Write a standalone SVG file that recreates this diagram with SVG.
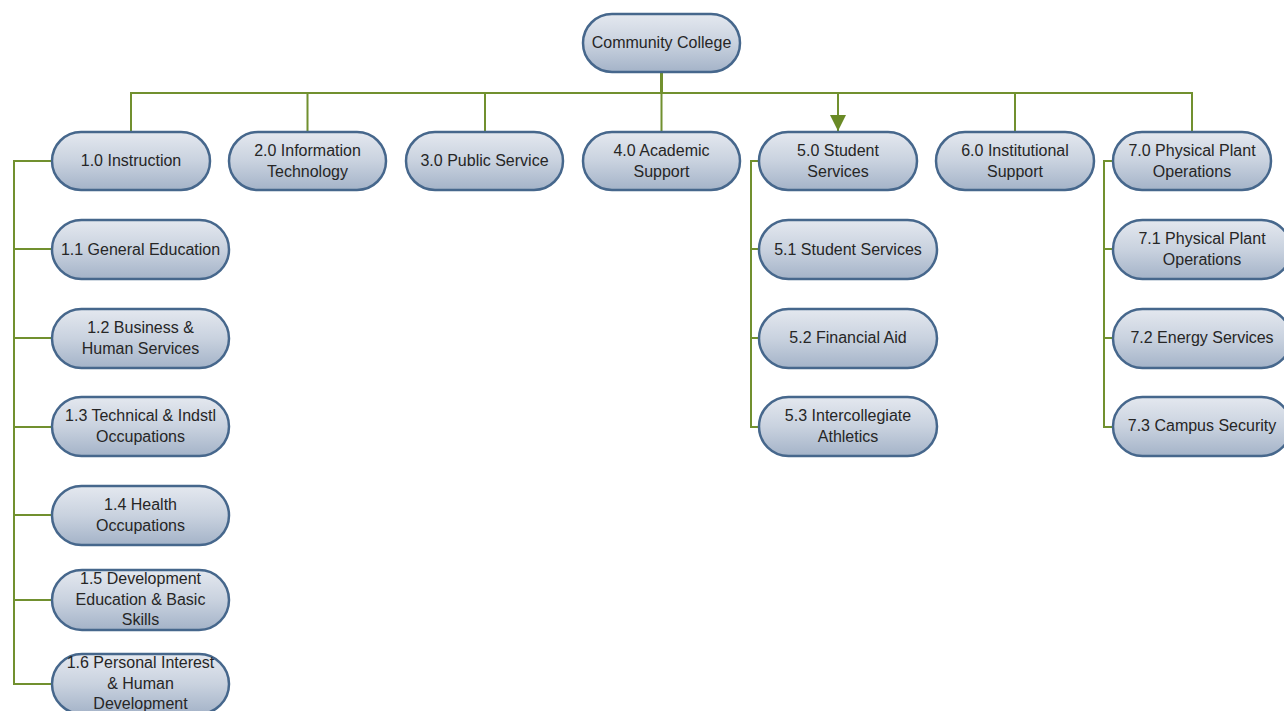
<svg xmlns="http://www.w3.org/2000/svg" width="1284" height="711" viewBox="0 0 1284 711">
<style>
.n rect{fill:url(#g);stroke:#46678c;stroke-width:2.5}
.n text{font-family:"Liberation Sans",Arial,sans-serif;font-size:16px;fill:#262626;text-anchor:middle}
.c{fill:none;stroke:#71902f;stroke-width:2}
</style>
<defs>
<linearGradient id="g" x1="0" y1="0" x2="0" y2="1">
<stop offset="0" stop-color="#e4e8ef"/>
<stop offset="0.5" stop-color="#c9d2df"/>
<stop offset="1" stop-color="#a4b3c8"/>
</linearGradient>
<marker id="arr" viewBox="0 0 10 10" refX="10" refY="5" markerWidth="8" markerHeight="8" markerUnits="strokeWidth" orient="auto"><path d="M0,0 L10,5 L0,10 z" fill="#6a8a26"/></marker>
</defs>
<rect width="1284" height="711" fill="#fff"/>
<g id="connectors">
<path class="c" d="M661.5 72 V93" style="stroke-width:3"/>
<path class="c" d="M131 131 V93 H1192 V131"/>
<path class="c" d="M307.5 93 V131 M485 93 V131 M661.5 93 V131 M1015 93 V131"/>
<path class="c" d="M838 93 V131" marker-end="url(#arr)"/>
<path class="c" d="M52 161 H14 V684 H52 M14 249 H52 M14 338 H52 M14 427 H52 M14 515 H52 M14 600 H52"/>
<path class="c" d="M759 161 H751 V427 H759 M751 249 H759 M751 338 H759"/>
<path class="c" d="M1113 161 H1104 V427 H1113 M1104 249 H1113 M1104 338 H1113"/>
</g>
<g id="root" class="n"><rect x="583" y="14" width="157" height="58" rx="29"/><text x="661.5" y="48">Community College</text></g>
<g id="n1_0" class="n"><rect x="52" y="132" width="158" height="58" rx="29"/><text x="131" y="166">1.0 Instruction</text></g>
<g id="n2_0" class="n"><rect x="229" y="132" width="157" height="58" rx="29"/><text x="307.5" y="156">2.0 Information</text><text x="307.5" y="177">Technology</text></g>
<g id="n3_0" class="n"><rect x="406" y="132" width="157" height="58" rx="29"/><text x="484.5" y="166">3.0 Public Service</text></g>
<g id="n4_0" class="n"><rect x="583" y="132" width="157" height="58" rx="29"/><text x="661.5" y="156">4.0 Academic</text><text x="661.5" y="177">Support</text></g>
<g id="n5_0" class="n"><rect x="759" y="132" width="158" height="58" rx="29"/><text x="838" y="156">5.0 Student</text><text x="838" y="177">Services</text></g>
<g id="n6_0" class="n"><rect x="936" y="132" width="158" height="58" rx="29"/><text x="1015" y="156">6.0 Institutional</text><text x="1015" y="177">Support</text></g>
<g id="n7_0" class="n"><rect x="1113" y="132" width="158" height="58" rx="29"/><text x="1192" y="156">7.0 Physical Plant</text><text x="1192" y="177">Operations</text></g>
<g id="n1_1" class="n"><rect x="52" y="220" width="177" height="59" rx="29.5"/><text x="140.5" y="255">1.1 General Education</text></g>
<g id="n1_2" class="n"><rect x="52" y="309" width="177" height="59" rx="29.5"/><text x="140.5" y="333">1.2 Business &amp;</text><text x="140.5" y="354">Human Services</text></g>
<g id="n1_3" class="n"><rect x="52" y="397" width="177" height="59" rx="29.5"/><text x="140.5" y="421">1.3 Technical &amp; Indstl</text><text x="140.5" y="442">Occupations</text></g>
<g id="n1_4" class="n"><rect x="52" y="486" width="177" height="59" rx="29.5"/><text x="140.5" y="510">1.4 Health</text><text x="140.5" y="531">Occupations</text></g>
<g id="n1_5" class="n"><rect x="52" y="570" width="177" height="60" rx="30"/><text x="140.5" y="584">1.5 Development</text><text x="140.5" y="605">Education &amp; Basic</text><text x="140.5" y="625">Skills</text></g>
<g id="n1_6" class="n"><rect x="52" y="654" width="177" height="60" rx="30"/><text x="140.5" y="668">1.6 Personal Interest</text><text x="140.5" y="689">&amp; Human</text><text x="140.5" y="709">Development</text></g>
<g id="n5_1" class="n"><rect x="759" y="220" width="178" height="59" rx="29.5"/><text x="848" y="255">5.1 Student Services</text></g>
<g id="n5_2" class="n"><rect x="759" y="309" width="178" height="59" rx="29.5"/><text x="848" y="343">5.2 Financial Aid</text></g>
<g id="n5_3" class="n"><rect x="759" y="397" width="178" height="59" rx="29.5"/><text x="848" y="421">5.3 Intercollegiate</text><text x="848" y="442">Athletics</text></g>
<g id="n7_1" class="n"><rect x="1113" y="220" width="178" height="59" rx="29.5"/><text x="1202" y="244">7.1 Physical Plant</text><text x="1202" y="265">Operations</text></g>
<g id="n7_2" class="n"><rect x="1113" y="309" width="178" height="59" rx="29.5"/><text x="1202" y="343">7.2 Energy Services</text></g>
<g id="n7_3" class="n"><rect x="1113" y="397" width="178" height="59" rx="29.5"/><text x="1202" y="431">7.3 Campus Security</text></g>
</svg>
